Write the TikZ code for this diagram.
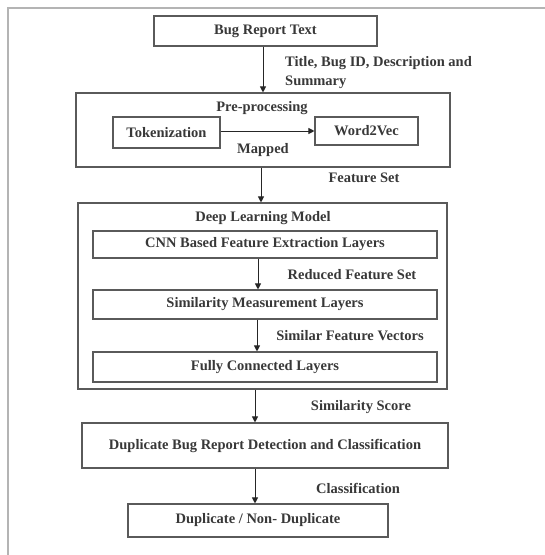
\documentclass[tikz,border=0pt]{standalone}
\usepackage{fontspec}
\setmainfont{Liberation Serif}
\usetikzlibrary{arrows.meta}
\definecolor{boxline}{HTML}{5A5A5A}
\definecolor{frameline}{HTML}{B4B4B4}
\definecolor{txt}{HTML}{383838}
\begin{document}
\begin{tikzpicture}[x=1pt,y=-1pt,
  every node/.style={font=\fontsize{14.5}{19}\selectfont\bfseries, text=txt},
  blockbox/.style={draw=boxline, line width=1.1pt, inner sep=0pt, align=center},
  flowarrow/.style={draw=black!85, line width=1pt, -{Triangle[length=6pt,width=6pt]}},
  lbl/.style={inner sep=0pt}
]
\useasboundingbox (0,0) rectangle (545,555);
\draw[frameline, line width=2pt] (545,8) -- (8,8) -- (8,555);

\node[blockbox, minimum width=223pt, minimum height=30pt] (bug) at (265.5,31) {Bug Report Text};
\node[blockbox, minimum width=374pt, minimum height=74pt] (pre) at (263,130) {};
\node[lbl] (pretitle) at (262,108) {Pre-processing};
\node[blockbox, minimum width=107pt, minimum height=31pt] (tok) at (166.5,132.5) {Tokenization};
\node[blockbox, minimum width=103pt, minimum height=28pt] (w2v) at (366.5,131) {Word2Vec};
\node[lbl] (mapped) at (263,150) {Mapped};

\node[blockbox, minimum width=369pt, minimum height=186pt] (dl) at (262.5,296) {};
\node[lbl] (dltitle) at (263,218) {Deep Learning Model};
\node[blockbox, minimum width=344pt, minimum height=27pt] (cnn) at (265,244.5) {CNN Based Feature Extraction Layers};
\node[blockbox, minimum width=344pt, minimum height=29pt] (sim) at (265,304.5) {Similarity Measurement Layers};
\node[blockbox, minimum width=344pt, minimum height=30pt] (fc) at (265,367) {Fully Connected Layers};

\node[blockbox, minimum width=366pt, minimum height=45pt] (dup) at (265,445.5) {Duplicate Bug Report Detection and Classification};
\node[blockbox, minimum width=260pt, minimum height=33pt] (fin) at (258,520.5) {Duplicate / Non- Duplicate};

\node[lbl, anchor=west, align=left] (l1) at (285,72.5) {Title, Bug ID, Description and\\Summary};
\node[lbl] (l2) at (364,178) {Feature Set};
\node[lbl] (l3) at (352,275) {Reduced Feature Set};
\node[lbl] (l4) at (350,336) {Similar Feature Vectors};
\node[lbl] (l5) at (361,407) {Similarity Score};
\node[lbl] (l6) at (358,488) {Classification};

\draw[flowarrow] ([xshift=-2.5pt]bug.south) -- ([xshift=-2.5pt]bug.south |- pre.north);
\draw[flowarrow] (tok.east |- w2v) -- (w2v.west);
\draw[flowarrow] ([xshift=-2pt]pre.south) -- ([xshift=-2pt]pre.south |- dl.north);
\draw[flowarrow] ([xshift=-7pt]cnn.south) -- ([xshift=-7pt]cnn.south |- sim.north);
\draw[flowarrow] ([xshift=-8pt]sim.south) -- ([xshift=-8pt]sim.south |- fc.north);
\draw[flowarrow] ([xshift=-7.5pt]dl.south) -- ([xshift=-7.5pt]dl.south |- dup.north);
\draw[flowarrow] ([xshift=-10pt]dup.south) -- ([xshift=-10pt]dup.south |- fin.north);
\end{tikzpicture}
\end{document}
